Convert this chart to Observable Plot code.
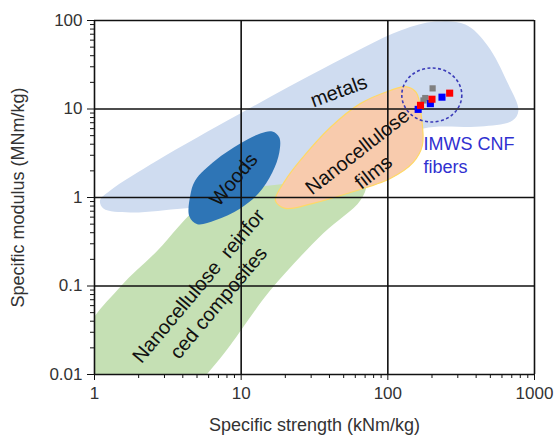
<!DOCTYPE html>
<html>
<head>
<meta charset="utf-8">
<script src="https://cdn.jsdelivr.net/npm/d3@7"></script>
<script src="https://cdn.jsdelivr.net/npm/@observablehq/plot@0.6"></script>
<style>
  html, body { margin: 0; padding: 0; background: #fff; }
  #chart svg { display: block; }
</style>
</head>
<body>
<div id="chart"></div>
<script>
// ---- axis ticks ----
const xMajor = [1, 10, 100, 1000];
const xTickLabels = ["1", "10", "100", "1000"];
const xMinor = [2,3,4,5,6,7,8,9,20,30,40,50,60,70,80,90,200,300,400,500,600,700,800,900];
const yMajor = [0.01, 0.1, 1, 10, 100];
const yTickLabels = ["0.01", "0.1", "1", "10", "100"];
const yMinor = [0.02,0.03,0.04,0.05,0.06,0.07,0.08,0.09,0.2,0.3,0.4,0.5,0.6,0.7,0.8,0.9,2,3,4,5,6,7,8,9,20,30,40,50,60,70,80,90];

// ---- material regions (specific strength kNm/kg, specific modulus MNm/kg) ----
const metalsStrength = [1.09, 1.28, 2.68, 9.86, 36.3, 122, 211, 338, 478, 654, 777, 708, 428, 175, 88.9, 40.5, 18.5, 8.43, 4.03, 1.75, 1.15];
const metalsModulus  = [0.927, 1.20, 2.62, 8.90, 28.6, 76.9, 97.2, 89.9, 52.1, 19.9, 9.62, 7.41, 6.34, 6.02, 3.40, 1.56, 0.927, 0.815, 0.753, 0.679, 0.753];

const woodsStrength = [4.50, 4.86, 6.66, 9.86, 13.5, 16.3, 18.2, 18.2, 16.3, 13.1, 9.86, 6.66, 5.02, 4.43];
const woodsModulus  = [1.06, 1.56, 2.62, 4.07, 5.29, 5.57, 4.77, 3.23, 1.92, 1.11, 0.753, 0.552, 0.498, 0.612];

const filmsStrength = [17.1, 20.0, 25.3, 40.5, 64.9, 104, 132, 156, 169, 172, 149, 104, 52.9, 31.0, 20.0];
const filmsModulus  = [0.927, 1.56, 2.62, 6.18, 11.5, 16.2, 17.9, 15.4, 8.45, 3.87, 2.49, 1.64, 1.11, 0.86, 0.753];

const compStrength = [0.85, 1.50, 2.68, 5.26, 9.86, 21.6, 51.3, 70.3, 64.9, 36.3, 15.8, 8.43, 6.15, 5.0, 0.85];
const compModulus  = [0.028, 0.098, 0.25, 0.80, 1.20, 1.44, 1.56, 1.37, 0.927, 0.394, 0.0893, 0.0214, 0.0112, 0.008, 0.008];

// ---- IMWS CNF fibers measured points ----
const blueStrength = [161, 195, 234];
const blueModulus  = [9.9, 11.5, 13.6];
const redStrength  = [167, 200, 264];
const redModulus   = [11.0, 12.9, 15.1];
const grayStrength = [175, 180, 202];
const grayModulus  = [12.5, 13.3, 17.1];
const circleCenter = [201, 14.2];

// ---- labels ----
const labelText   = ["metals", "Woods", "Nanocellulose\nfilms", "Nanocellulose  reinfor\nced composites"];
const labelX      = [45.9, 8.70, 69.2, 5.87];
const labelY      = [16.6, 1.64, 2.62, 0.0828];
const labelRotate = [-20, -50, -38, -50];
const fiberLabel = "IMWS CNF\nfibers";
const fiberLabelPos = [175, 3.10];
const xTitle = "Specific strength (kNm/kg)";
const yTitle = "Specific modulus (MNm/kg)";

const toPts = (xs, ys) => xs.map((x, i) => ({x, y: ys[i]}));
const region = (xs, ys, opts) => Plot.line(toPts(xs, ys), {x: "x", y: "y", curve: "catmull-rom-closed", clip: true, ...opts});
const labels = labelText.map((t, i) => ({t, x: labelX[i], y: labelY[i], r: labelRotate[i]}));

const ellipseMark = (index, scales) => {
  const cx = scales.x(circleCenter[0]);
  const cy = scales.y(circleCenter[1]);
  return d3.create("svg:ellipse")
    .attr("cx", cx).attr("cy", cy).attr("rx", 30).attr("ry", 27)
    .attr("fill", "none").attr("stroke", "#3a3ab8")
    .attr("stroke-width", 1.6).attr("stroke-dasharray", "3,2.4")
    .node();
};

const chart = Plot.plot({
  width: 554,
  height: 437,
  marginLeft: 94,
  marginRight: 20,
  marginTop: 20,
  marginBottom: 63,
  style: {fontFamily: "'Liberation Sans', Arial, sans-serif", fontSize: "17px", color: "#222", background: "#fff"},
  x: {type: "log", domain: [1, 1000], axis: null},
  y: {type: "log", domain: [0.01, 100], axis: null},
  marks: [
    region(metalsStrength, metalsModulus, {fill: "#cfdcf0", stroke: "none"}),
    region(compStrength, compModulus, {fill: "#c5e0b4", stroke: "none"}),
    region(woodsStrength, woodsModulus, {fill: "#2e75b6", stroke: "none"}),
    region(filmsStrength, filmsModulus, {fill: "#f8cbad", stroke: "#ffd966", strokeWidth: 1.2}),
    Plot.ruleX(xMajor, {stroke: "#111", strokeWidth: 1.6}),
    Plot.ruleY(yMajor, {stroke: "#111", strokeWidth: 1.6}),
    Plot.axisX({ticks: xMajor, tickSize: 6, tickPadding: 6, tickFormat: (d) => xTickLabels[xMajor.indexOf(d)], label: null, fontSize: 17, fill: "#333", stroke: "#111"}),
    Plot.axisX({ticks: xMinor, tickSize: 4, tickFormat: () => "", label: null, stroke: "#111"}),
    Plot.axisY({ticks: yMajor, tickSize: 7, tickPadding: 5, tickFormat: (d) => yTickLabels[yMajor.indexOf(d)], label: null, fontSize: 17, fill: "#333", stroke: "#111"}),
    Plot.axisY({ticks: yMinor, tickSize: 4, tickFormat: () => "", label: null, stroke: "#111"}),
    ellipseMark,
    Plot.dot(toPts(grayStrength, grayModulus), {x: "x", y: "y", symbol: "square", r: 3.5, fill: "#808080", stroke: "none"}),
    Plot.dot(toPts(blueStrength, blueModulus), {x: "x", y: "y", symbol: "square", r: 4, fill: "#0000ff", stroke: "none"}),
    Plot.dot(toPts(redStrength, redModulus), {x: "x", y: "y", symbol: "square", r: 4, fill: "#ff0000", stroke: "none"}),
    Plot.text(labels, {x: "x", y: "y", text: "t", rotate: "r", fontSize: 20, fill: "#111", lineHeight: 1.3}),
    Plot.text([fiberLabel], {x: () => fiberLabelPos[0], y: () => fiberLabelPos[1], text: d => d, textAnchor: "start", fontSize: 18, fill: "#3030d0", lineHeight: 1.28}),
    Plot.text([xTitle], {frameAnchor: "bottom", dy: 51, lineAnchor: "middle", textAnchor: "middle", text: d => d, fontSize: 18, fill: "#333", letterSpacing: "0.3px"}),
    Plot.text([yTitle], {frameAnchor: "left", dx: -76, rotate: -90, textAnchor: "middle", lineAnchor: "middle", text: d => d, fontSize: 18, fill: "#333"})
  ]
});
document.getElementById("chart").appendChild(chart);
</script>
</body>
</html>
